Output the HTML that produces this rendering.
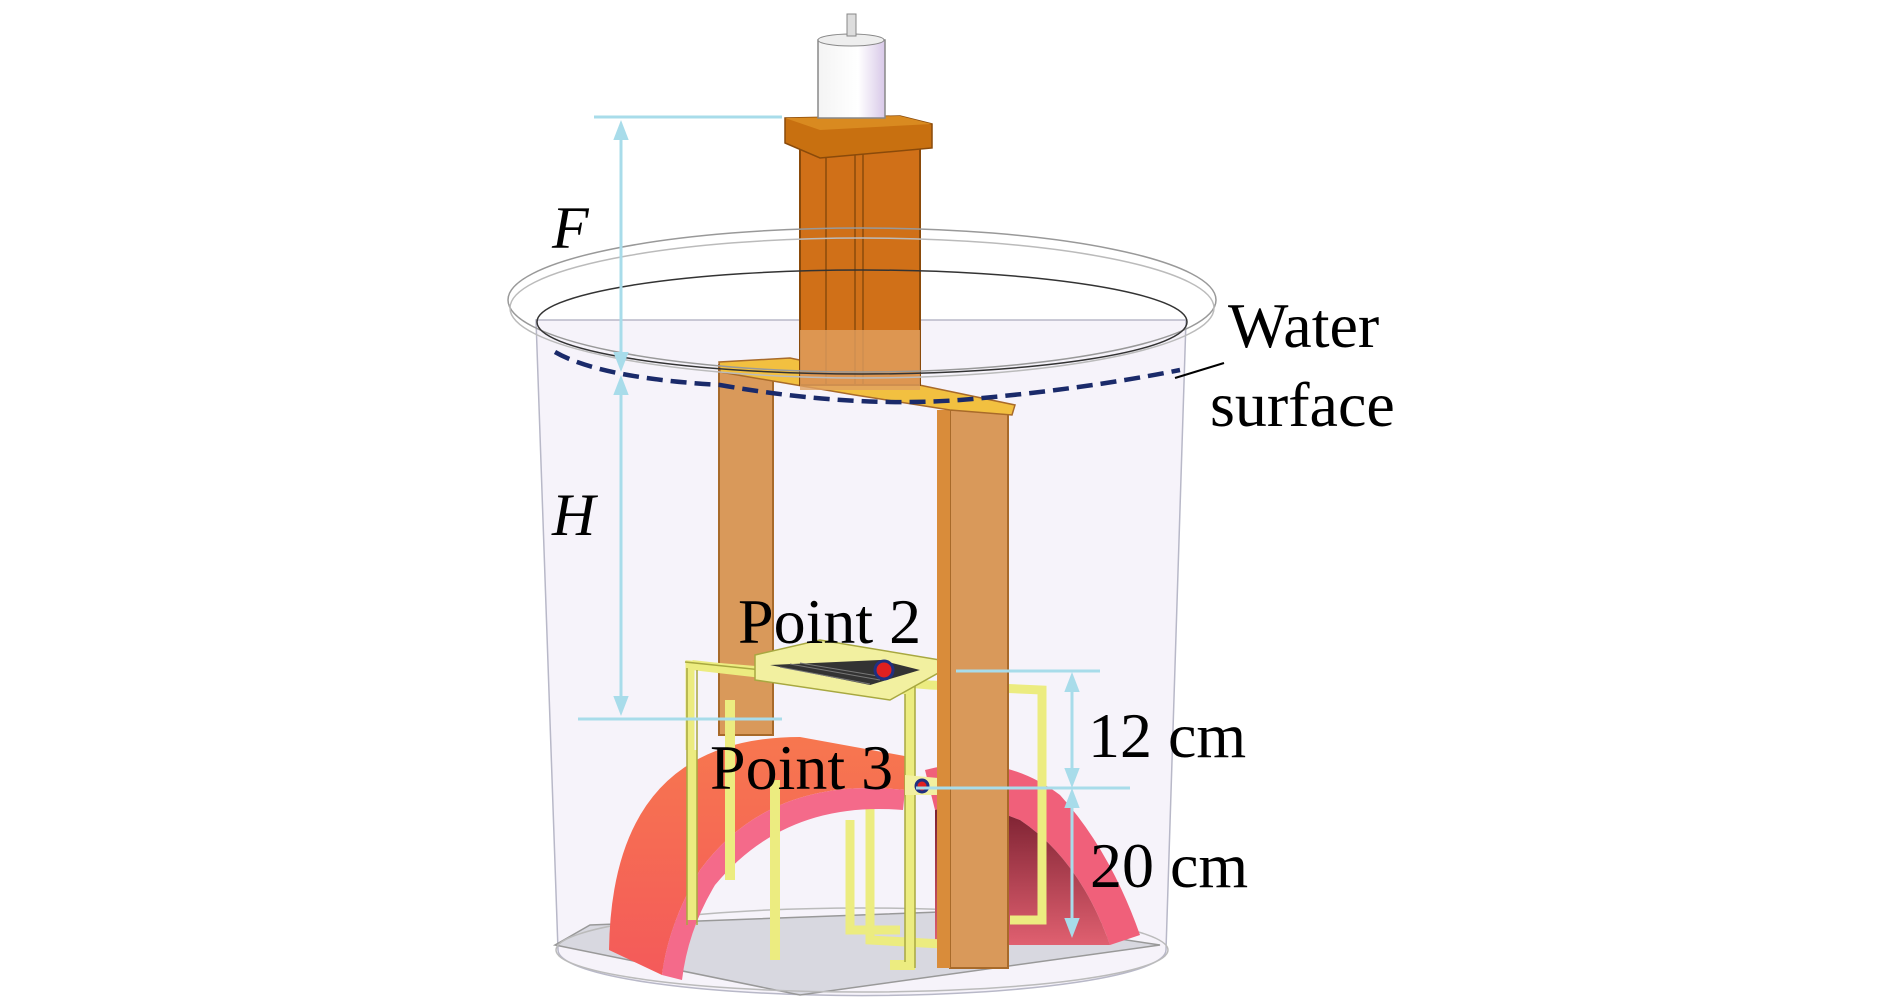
<!DOCTYPE html>
<html><head><meta charset="utf-8"><style>
html,body{margin:0;padding:0;background:#fff;width:1890px;height:1002px;overflow:hidden}
svg{display:block}
text{font-family:"Liberation Serif",serif;fill:#000}
</style></head><body>
<svg width="1890" height="1002" viewBox="0 0 1890 1002" xmlns="http://www.w3.org/2000/svg">
<defs>
<linearGradient id="red" x1="0" y1="0" x2="0" y2="1"><stop offset="0" stop-color="#f7774f"/><stop offset="1" stop-color="#f45a5a"/></linearGradient>
<linearGradient id="inner" x1="0" y1="0" x2="0" y2="1"><stop offset="0" stop-color="#7a2030"/><stop offset="1" stop-color="#e06070"/></linearGradient>
<linearGradient id="motor" x1="0" y1="0" x2="1" y2="0"><stop offset="0" stop-color="#f4f4f4"/><stop offset="0.6" stop-color="#fff"/><stop offset="1" stop-color="#d8c8e8"/></linearGradient>
<marker id="ah" markerWidth="20" markerHeight="26" refX="13" refY="10" orient="auto-start-reverse" markerUnits="userSpaceOnUse" viewBox="0 0 26 20"><path d="M0,0 L26,10 L0,20 z" fill="#a8dcea"/></marker>
</defs>
<!-- container body -->
<path d="M536,320 L558,950 A300,45 0 0 0 1166,950 L1186,320 Z" fill="#f6f3fa" stroke="#b8b8c8" stroke-width="1.5"/>
<!-- base plate -->
<path d="M555,945 L800,995 L1160,945 L940,912 L590,925 Z" fill="#d8d8e0" stroke="#999" stroke-width="1.5"/>
<ellipse cx="862" cy="950" rx="306" ry="42" fill="none" stroke="#bbb" stroke-width="1.5"/>
<!-- back arch -->
<path d="M925,770 Q1000,750 1060,795 Q1110,850 1140,935 L1110,945 Q1080,860 1020,820 Q970,800 935,810 Z" fill="#f0607a"/>
<path d="M935,810 Q970,800 1020,820 Q1080,860 1110,945 L935,945 Z" fill="url(#inner)"/>
<!-- left orange leg -->
<rect x="719" y="365" width="54" height="370" fill="#d9995a" stroke="#a86a2a" stroke-width="2"/>
<!-- yellow frame back -->
<g fill="none" stroke="#ecec80" stroke-width="9">
<path d="M690,750 L690,665 L930,685 L1042,690 L1042,920 L1010,920"/>
<path d="M870,780 L870,940 L960,945"/>
<path d="M850,820 L850,930 L900,930"/>
</g>
<!-- front arch -->
<path d="M609,950 Q612,737 800,737 L910,757 L905,790 Q770,775 700,870 Q668,925 662,975 Z" fill="url(#red)"/>
<path d="M662,975 Q668,925 700,870 Q770,775 905,790 L903,810 Q785,800 715,885 Q688,930 682,980 Z" fill="#f46a8a"/>
<!-- yellow frame front -->
<g fill="none" stroke="#ecec80" stroke-width="10">
<path d="M692,750 L692,920"/>
<path d="M692,665 L910,690 L910,965 L890,965"/>
<path d="M730,700 L730,880"/>
<path d="M775,780 L775,960"/>
</g>
<g fill="none" stroke="#a8a840" stroke-width="1.5">
<path d="M685,662 L915,686 L915,968 M905,694 L905,962 M687,668 L687,925 M697,670 L697,925"/>
</g>
<!-- top platform of frame -->
<path d="M755,655 L820,640 L940,660 L940,672 L890,700 L755,680 Z" fill="#f2f0a0" stroke="#a8a840" stroke-width="1.5"/>
<path d="M770,665 L880,660 L920,670 L870,685 Z" fill="#333"/>
<g stroke="#777" stroke-width="1"><path d="M780,667 L870,684 M790,664 L880,680 M800,663 L890,678"/></g>
<circle cx="884" cy="670" r="9" fill="#e02020" stroke="#203080" stroke-width="3"/>
<path d="M905,775 L960,780 L955,795 L905,795 Z" fill="#f2f0a0"/>
<circle cx="922" cy="786" r="6" fill="#e02020" stroke="#203080" stroke-width="3"/>
<!-- right orange leg -->
<rect x="950" y="410" width="58" height="558" fill="#d9995a" stroke="#a86a2a" stroke-width="2"/>
<rect x="937" y="410" width="13" height="558" fill="#d98c3a"/>
<!-- yellow top bar -->
<path d="M719,362 L790,358 L1015,405 L1012,415 L950,410 L855,395 L720,372 Z" fill="#f2c040" stroke="#a86a2a" stroke-width="1.5"/>
<!-- orange column -->
<rect x="800" y="145" width="120" height="240" fill="#d07018" stroke="#8a4a0a" stroke-width="2"/>
<path d="M826,145 L826,385 M855,145 L855,385 M863,145 L863,385" stroke="#8a4a0a" stroke-width="1.5"/>
<rect x="800" y="330" width="120" height="60" fill="#e0a060" opacity="0.8"/>
<!-- top plate -->
<path d="M785,118 L900,116 L932,124 L932,148 L820,158 L785,143 Z" fill="#c87010" stroke="#8a4a0a" stroke-width="1.5"/>
<path d="M785,118 L900,116 L932,124 L820,130 Z" fill="#d98a20"/>
<!-- motor -->
<rect x="818" y="40" width="67" height="78" fill="url(#motor)" stroke="#888" stroke-width="1.5"/>
<ellipse cx="851" cy="40" rx="33" ry="6" fill="#eee" stroke="#888"/>
<rect x="847" y="14" width="9" height="22" fill="#ddd" stroke="#888"/>
<!-- container rims -->
<ellipse cx="862" cy="300" rx="354" ry="72" fill="none" stroke="#999" stroke-width="1.5"/>
<ellipse cx="862" cy="308" rx="352" ry="70" fill="none" stroke="#bbb" stroke-width="1.5"/>
<ellipse cx="862" cy="322" rx="325" ry="52" fill="none" stroke="#333" stroke-width="1.5"/>
<!-- water surface dashed -->
<path d="M555,352 Q600,378 720,385 Q850,408 960,400 Q1080,390 1180,370" fill="none" stroke="#1a2a6a" stroke-width="4.5" stroke-dasharray="16,8"/>
<line x1="1175" y1="378" x2="1224" y2="363" stroke="#000" stroke-width="2"/>
<!-- dimension lines -->
<g stroke="#a8dcea" stroke-width="3" fill="none">
<line x1="594" y1="117" x2="782" y2="117"/>
<line x1="621" y1="130" x2="621" y2="362" marker-start="url(#ah)" marker-end="url(#ah)"/>
<line x1="621" y1="385" x2="621" y2="706" marker-start="url(#ah)" marker-end="url(#ah)"/>
<line x1="578" y1="719" x2="782" y2="719"/>
<line x1="956" y1="671" x2="1100" y2="671"/>
<line x1="916" y1="788" x2="1130" y2="788"/>
<line x1="1072" y1="682" x2="1072" y2="778" marker-start="url(#ah)" marker-end="url(#ah)"/>
<line x1="1072" y1="798" x2="1072" y2="928" marker-start="url(#ah)" marker-end="url(#ah)"/>
</g>
<!-- labels -->
<text x="552" y="248" font-size="60" font-style="italic">F</text>
<text x="552" y="535" font-size="60" font-style="italic">H</text>
<text x="1228" y="347" font-size="64">Water</text>
<text x="1210" y="426" font-size="64">surface</text>
<text x="738" y="643" font-size="64">Point 2</text>
<text x="710" y="789" font-size="64">Point 3</text>
<text x="1088" y="757" font-size="64">12 cm</text>
<text x="1090" y="887" font-size="64">20 cm</text>
</svg>
</body></html>
